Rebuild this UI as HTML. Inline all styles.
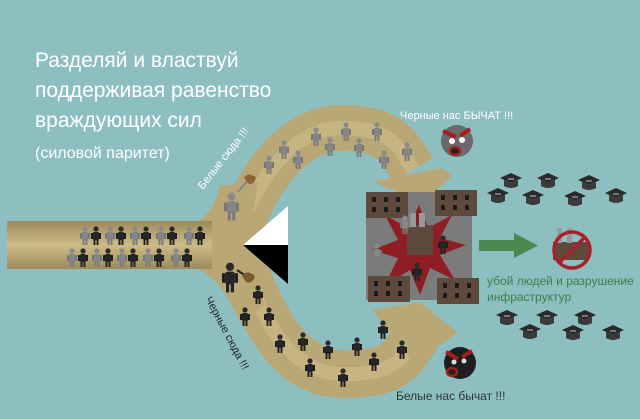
<!DOCTYPE html>
<html><head><meta charset="utf-8"><style>
html,body{margin:0;padding:0;background:#8dbfc1;}
svg{display:block;}
text{font-family:"Liberation Sans",sans-serif;}
</style></head><body>
<svg width="640" height="419" viewBox="0 0 640 419" xmlns="http://www.w3.org/2000/svg">
<defs>
<linearGradient id="rd" x1="0" y1="0" x2="0" y2="1">
<stop offset="0" stop-color="#9c8a5a"/><stop offset="0.5" stop-color="#cdbb8a"/><stop offset="1" stop-color="#9c8a5a"/></linearGradient>
<g id="pg"><circle cx="5" cy="3" r="2.6" fill="#8a8a8a"/><rect x="2" y="6" width="6" height="8" rx="1.5" fill="#858585"/><rect x="0" y="7" width="2" height="6" fill="#777"/><rect x="8" y="7" width="2" height="6" fill="#777"/><rect x="2.5" y="13" width="2" height="6" fill="#7a7a7a"/><rect x="5.5" y="13" width="2" height="6" fill="#7a7a7a"/></g>
<g id="pd"><circle cx="5" cy="3" r="2.6" fill="#2a2a2a"/><rect x="2" y="6" width="6" height="8" rx="1.5" fill="#252525"/><rect x="0" y="7" width="2" height="6" fill="#1f1f1f"/><rect x="8" y="7" width="2" height="6" fill="#1f1f1f"/><rect x="2.5" y="13" width="2" height="6" fill="#222"/><rect x="5.5" y="13" width="2" height="6" fill="#222"/></g>
<g id="cap"><polygon points="0,5 11,0 22,5 11,10" fill="#2a2a2a"/><path d="M4,7 L4,13 Q11,17 18,13 L18,7 L11,10 Z" fill="#3a3a3a"/><rect x="8" y="5" width="6" height="2" fill="#777"/></g>
<g id="bld"><rect width="42" height="26" fill="#5e4a3c"/><g fill="#1a1a1a"><rect x="6" y="5" width="4" height="5"/><rect x="18" y="5" width="4" height="5"/><rect x="30" y="5" width="4" height="5"/><rect x="6" y="15" width="4" height="5"/><rect x="18" y="15" width="4" height="5"/><rect x="30" y="15" width="4" height="5"/></g></g>
</defs>

<!-- roads -->
<path d="M238,238 C250,190 290,128 340,128 S 398,145 413,170" fill="none" stroke="#b9a776" stroke-width="46"/>
<path d="M238,238 C250,190 290,128 340,128 S 398,145 413,170" fill="none" stroke="#cfbd8c" stroke-width="14" opacity="0.6"/>
<polygon points="373,182 440,168 453,175 423,202" fill="#b9a776"/>
<path d="M238,252 C255,300 282,372 340,374 S 403,356 418,334" fill="none" stroke="#b9a776" stroke-width="48"/>
<path d="M238,252 C255,300 282,372 340,374 S 403,356 418,334" fill="none" stroke="#cfbd8c" stroke-width="14" opacity="0.6"/>
<polygon points="372,310 420,302 458,333 413,362" fill="#b9a776"/>
<path d="M198,221 Q212,214 220,186 L258,182 L248,245 L264,305 L240,322 Q220,278 198,269 Z" fill="#b9a776"/>
<rect x="7" y="221" width="205" height="48" fill="url(#rd)"/>

<!-- triangle -->
<polygon points="243,245 288,206 288,245" fill="#fff"/>
<polygon points="243,245 288,245 288,284" fill="#000"/>

<!-- people in bar -->
<g>
<use href="#pg" x="80" y="226"/><use href="#pd" x="91" y="226"/><use href="#pg" x="105" y="226"/><use href="#pd" x="116" y="226"/><use href="#pg" x="130" y="226"/><use href="#pd" x="141" y="226"/><use href="#pg" x="156" y="226"/><use href="#pd" x="167" y="226"/><use href="#pg" x="184" y="226"/><use href="#pd" x="195" y="226"/>
<use href="#pg" x="67" y="248"/><use href="#pd" x="78" y="248"/><use href="#pg" x="92" y="248"/><use href="#pd" x="103" y="248"/><use href="#pg" x="117" y="248"/><use href="#pd" x="128" y="248"/><use href="#pg" x="143" y="248"/><use href="#pd" x="154" y="248"/><use href="#pg" x="171" y="248"/><use href="#pd" x="182" y="248"/>
</g>
<!-- upper people -->
<g>
<use href="#pg" x="264" y="155"/><use href="#pg" x="279" y="140"/><use href="#pg" x="293" y="150"/><use href="#pg" x="311" y="127"/><use href="#pg" x="325" y="137"/><use href="#pg" x="341" y="122"/><use href="#pg" x="354" y="138"/><use href="#pg" x="372" y="122"/><use href="#pg" x="379" y="150"/><use href="#pg" x="402" y="142"/>
<g transform="translate(224,192) scale(1.5)"><use href="#pg"/></g>
<path d="M238,192 L248,180" stroke="#888" stroke-width="2"/>
<path d="M244,178 q4,-6 9,-2 q4,0 2,4 q-3,6 -7,3 z" fill="#8a6530"/>
</g>
<!-- lower people -->
<g>
<g transform="translate(222,262) scale(1.6)"><use href="#pd"/></g>
<path d="M237,270 L246,276" stroke="#222" stroke-width="2"/>
<path d="M242,276 q4,-6 10,-2 q4,1 2,5 q-3,5 -8,3 z" fill="#7a5a2c"/>
<use href="#pd" x="253" y="285"/><use href="#pd" x="240" y="307"/><use href="#pd" x="264" y="307"/><use href="#pd" x="275" y="334"/><use href="#pd" x="298" y="332"/><use href="#pd" x="305" y="358"/><use href="#pd" x="323" y="340"/><use href="#pd" x="338" y="368"/><use href="#pd" x="352" y="337"/><use href="#pd" x="369" y="352"/><use href="#pd" x="378" y="320"/><use href="#pd" x="397" y="340"/>
</g>

<!-- central destruction block -->
<rect x="366" y="192" width="106" height="108" fill="#7b7b7b"/>
<polygon points="419,205 428,228 452,215 440,238 466,245 440,255 455,280 430,268 420,295 410,270 385,285 398,258 372,250 398,240 385,215 408,228" fill="#8e1e24"/>
<rect x="407" y="225" width="26" height="30" fill="#5e4a3c"/>
<rect x="410" y="213" width="6" height="14" fill="#999"/><rect x="419" y="213" width="6" height="14" fill="#999"/>
<use href="#bld" x="366" y="192"/><use href="#bld" x="435" y="190"/><use href="#bld" x="368" y="276"/><use href="#bld" x="437" y="278"/>
<use href="#pg" x="400" y="215"/><use href="#pd" x="438" y="235"/><use href="#pg" x="372" y="243"/><use href="#pd" x="412" y="262"/>

<!-- green arrow -->
<rect x="479" y="240" width="36" height="11" fill="#4a8a50"/>
<polygon points="514,233 538,245.5 514,258" fill="#4a8a50"/>
<!-- no-factory -->
<rect x="553" y="242" width="36" height="18" fill="#5e4a3c"/>
<rect x="557" y="228" width="5" height="15" fill="#999"/><rect x="567" y="228" width="5" height="15" fill="#999"/>
<circle cx="572" cy="250" r="18" fill="none" stroke="#a8202a" stroke-width="3.5"/>
<line x1="559" y1="263" x2="585" y2="237" stroke="#a8202a" stroke-width="3.5"/>

<!-- caps -->
<use href="#cap" x="500" y="173"/><use href="#cap" x="537" y="173"/><use href="#cap" x="578" y="175"/><use href="#cap" x="487" y="188"/><use href="#cap" x="522" y="190"/><use href="#cap" x="564" y="191"/><use href="#cap" x="605" y="188"/>
<use href="#cap" x="496" y="310"/><use href="#cap" x="536" y="310"/><use href="#cap" x="574" y="310"/><use href="#cap" x="519" y="324"/><use href="#cap" x="562" y="325"/><use href="#cap" x="602" y="325"/>

<!-- faces -->
<circle cx="457" cy="141" r="16" fill="#6a6a6a"/>
<path d="M443,131 L456,137 M470,129 L460,136" stroke="#a02020" stroke-width="4"/>
<circle cx="452" cy="141" r="3" fill="#fff"/><circle cx="462" cy="140" r="3" fill="#fff"/>
<ellipse cx="455" cy="151" rx="5" ry="4" fill="#222" stroke="#a02020" stroke-width="2.5"/>
<circle cx="460" cy="363" r="16" fill="#1e1e1e"/>
<path d="M446,352 L458,359 M472,351 L462,357" stroke="#a02020" stroke-width="4"/>
<circle cx="454" cy="362" r="2.5" fill="#ddd"/><circle cx="464" cy="361" r="2.5" fill="#ddd"/>
<ellipse cx="452" cy="372" rx="5" ry="4" fill="#222" stroke="#a02020" stroke-width="2.5"/>

<!-- text -->
<g fill="#fff">
<text x="35" y="67" font-size="21">Разделяй и властвуй</text>
<text x="35" y="97" font-size="21">поддерживая равенство</text>
<text x="35" y="127" font-size="21">враждующих сил</text>
<text x="35" y="158" font-size="16">(силовой паритет)</text>
<text x="400" y="119" font-size="11">Черные нас БЫЧАТ !!!</text>
<text transform="translate(203,190) rotate(-52)" font-size="11">Белые сюда !!!</text>
</g>
<text transform="translate(205,299) rotate(62)" font-size="11" fill="#222">Черные сюда !!!</text>
<text x="396" y="400" font-size="12" fill="#333">Белые нас бычат !!!</text>
<text x="487" y="285" font-size="12" fill="#3f7d45">убой людей и разрушение</text>
<text x="487" y="301" font-size="12" fill="#3f7d45">инфраструктур</text>
</svg>
</body></html>
